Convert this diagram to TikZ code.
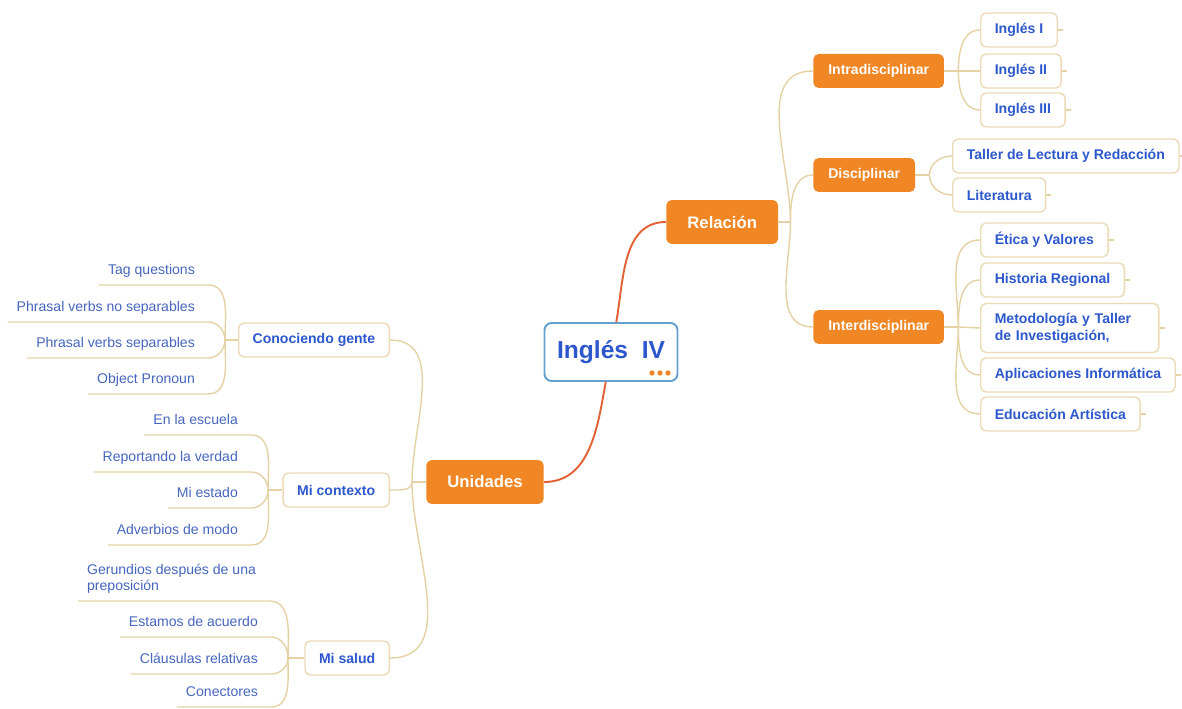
\documentclass[tikz,border=0pt]{standalone}
\usepackage{fontspec}
\setmainfont{Liberation Sans}
\usetikzlibrary{positioning, calc}
\definecolor{orangebox}{RGB}{240,134,36}
\definecolor{tanline}{RGB}{228,210,165}
\definecolor{tanborder}{RGB}{236,218,182}
\definecolor{boxblue}{RGB}{45,88,205}
\definecolor{leafblue}{RGB}{70,102,190}
\definecolor{stemred}{RGB}{226,98,56}
\definecolor{rootblue}{RGB}{100,160,205}

\begin{document}
\begin{tikzpicture}[x=0.02cm, y=-0.02cm,
  rootbox/.style={draw=rootblue, line width=1.1pt, fill=white, rounded corners=4pt,
    minimum width=2.66cm, minimum height=1.16cm, text=boxblue,
    font=\fontsize{14}{16}\selectfont\bfseries},
  bigbox/.style={fill=orangebox, rounded corners=3pt, text=white, inner xsep=12pt,
    minimum height=0.88cm, font=\fontsize{9.5}{11}\selectfont\bfseries},
  midbox/.style={fill=orangebox, rounded corners=3pt, text=white, inner xsep=8.5pt,
    minimum height=0.68cm, font=\fontsize{8}{9.6}\selectfont\bfseries},
  whitebox/.style={draw=tanborder, line width=0.8pt, fill=white, rounded corners=3pt,
    text=boxblue, inner xsep=8pt, minimum height=0.68cm,
    font=\fontsize{8}{9.6}\selectfont\bfseries},
  leaf/.style={text=leafblue, inner xsep=5pt, inner ysep=3.5pt, text depth=2pt,
    font=\fontsize{8}{9.6}\selectfont},
  twig/.style={draw=tanline, line width=0.8pt},
  stem/.style={draw=stemred, line width=1.1pt}]
\useasboundingbox (0,0) rectangle (1182,709);

% centre
\node[rootbox] (root) at (611,352) {Inglés\ \ IV};
\fill[orangebox] (652,373) circle (1.5pt) (660,373) circle (1.5pt) (668,373) circle (1.5pt);
\node[bigbox, anchor=west] (rel) at (666,222) {Relación};
\node[bigbox, anchor=east] (uni) at (544,482) {Unidades};
\draw[stem] ([xshift=3pt]root.north) to[out=80, in=180] (rel.west);
\draw[stem] ([xshift=-3pt]root.south) to[out=-100, in=0] (uni.east);

% relacion
\node[midbox, anchor=west] (intra) at (813,71) {Intradisciplinar};
\node[midbox, anchor=west] (disc) at (813,175) {Disciplinar};
\node[midbox, anchor=west] (inter) at (813,327) {Interdisciplinar};
\draw[twig] (rel.east) -- ++(12,0) coordinate (jr);
\draw[twig] (jr) to[out=90, in=180] (intra.west);
\draw[twig] (jr) to[out=90, in=180] (disc.west);
\draw[twig] (jr) to[out=-90, in=180] (inter.west);

\node[whitebox, anchor=west] (ing1) at (980,30) {Inglés I};
\node[whitebox, anchor=west] (ing2) at (980,71) {Inglés II};
\node[whitebox, anchor=west] (ing3) at (980,110) {Inglés III};
\draw[twig] (intra.east) -- ++(14,0) coordinate (ji);
\draw[twig] (ji) to[out=90, in=180] (ing1.west);
\draw[twig] (ji) -- (ing2.west);
\draw[twig] (ji) to[out=-90, in=180] (ing3.west);

\node[whitebox, anchor=west] (taller) at (952,156) {Taller de Lectura y Redacción};
\node[whitebox, anchor=west] (lit) at (952,195) {Literatura};
\draw[twig] (disc.east) -- ++(14,0) coordinate (jd);
\draw[twig] (jd) to[out=90, in=180] (taller.west);
\draw[twig] (jd) to[out=-90, in=180] (lit.west);

\node[whitebox, anchor=west] (etica) at (980,240) {Ética y Valores};
\node[whitebox, anchor=west] (hist) at (980,280) {Historia Regional};
\node[whitebox, anchor=west, align=left, minimum height=0.98cm, text width=3.0cm] (meto) at (980,328) {Metodología y Taller\\de Investigación,};
\node[whitebox, anchor=west] (apli) at (980,375) {Aplicaciones Informática};
\node[whitebox, anchor=west] (edu) at (980,414) {Educación Artística};
\draw[twig] (inter.east) -- ++(14,0) coordinate (jn);
\draw[twig] (jn) to[out=90, in=180] (etica.west);
\draw[twig] (jn) to[out=90, in=180] (hist.west);
\draw[twig] (jn) -- (meto.west);
\draw[twig] (jn) to[out=-90, in=180] (apli.west);
\draw[twig] (jn) to[out=-90, in=180] (edu.west);

% small ticks
\draw[twig] (ing1.east) -- ++(5,0) (ing2.east) -- ++(5,0) (ing3.east) -- ++(5,0);
\draw[twig] (taller.east) -- ++(5,0) (lit.east) -- ++(5,0);
\draw[twig] (etica.east) -- ++(5,0) (hist.east) -- ++(5,0) (meto.east) -- ++(5,0)
  (apli.east) -- ++(5,0) (edu.east) -- ++(5,0);

% unidades
\node[whitebox, anchor=east] (cg) at (390,340) {Conociendo gente};
\node[whitebox, anchor=east] (mc) at (390,490) {Mi contexto};
\node[whitebox, anchor=east] (ms) at (390,658) {Mi salud};
\draw[twig] (uni.west) -- ++(-14,0) coordinate (ju);
\draw[twig] (ju) to[out=90, in=0] (cg.east);
\draw[twig] (ju) to[out=-90, in=0] (mc.east);
\draw[twig] (ju) to[out=-90, in=0] (ms.east);

% conociendo gente
\coordinate (jc) at (225,340);
\draw[twig] (jc) -- (cg.west);
\node[leaf, anchor=south east] (c1) at (204,285) {Tag questions};
\node[leaf, anchor=south east] (c2) at (204,322) {Phrasal verbs no separables};
\node[leaf, anchor=south east] (c3) at (204,358) {Phrasal verbs separables};
\node[leaf, anchor=south east] (c4) at (204,394) {Object Pronoun};
\draw[twig] (c1.south west) -- (c1.south east) -- ++(4,0) to[out=0, in=90] (jc);
\draw[twig] (c2.south west) -- (c2.south east) -- ++(4,0) to[out=0, in=90] (jc);
\draw[twig] (c3.south west) -- (c3.south east) -- ++(4,0) to[out=0, in=-90] (jc);
\draw[twig] (c4.south west) -- (c4.south east) -- ++(4,0) to[out=0, in=-90] (jc);

% mi contexto
\coordinate (jm) at (268,490);
\draw[twig] (jm) -- (mc.west);
\node[leaf, anchor=south east] (m1) at (247,435) {En la escuela};
\node[leaf, anchor=south east] (m2) at (247,472) {Reportando la verdad};
\node[leaf, anchor=south east] (m3) at (247,508) {Mi estado};
\node[leaf, anchor=south east] (m4) at (247,545) {Adverbios de modo};
\draw[twig] (m1.south west) -- (m1.south east) -- ++(4,0) to[out=0, in=90] (jm);
\draw[twig] (m2.south west) -- (m2.south east) -- ++(4,0) to[out=0, in=90] (jm);
\draw[twig] (m3.south west) -- (m3.south east) -- ++(4,0) to[out=0, in=-90] (jm);
\draw[twig] (m4.south west) -- (m4.south east) -- ++(4,0) to[out=0, in=-90] (jm);

% mi salud
\coordinate (js) at (288,658);
\draw[twig] (js) -- (ms.west);
\node[leaf, anchor=south west, align=left] (s1) at (78,601) {Gerundios después de una\\preposición};
\node[leaf, anchor=south east] (s2) at (267,637) {Estamos de acuerdo};
\node[leaf, anchor=south east] (s3) at (267,674) {Cláusulas relativas};
\node[leaf, anchor=south east] (s4) at (267,707) {Conectores};
\draw[twig] (s1.south west) -- (s1.south east) -- ++(4,0) to[out=0, in=90] (js);
\draw[twig] (s2.south west) -- (s2.south east) -- ++(4,0) to[out=0, in=90] (js);
\draw[twig] (s3.south west) -- (s3.south east) -- ++(4,0) to[out=0, in=-90] (js);
\draw[twig] (s4.south west) -- (s4.south east) -- ++(4,0) to[out=0, in=-90] (js);

\end{tikzpicture}
\end{document}
